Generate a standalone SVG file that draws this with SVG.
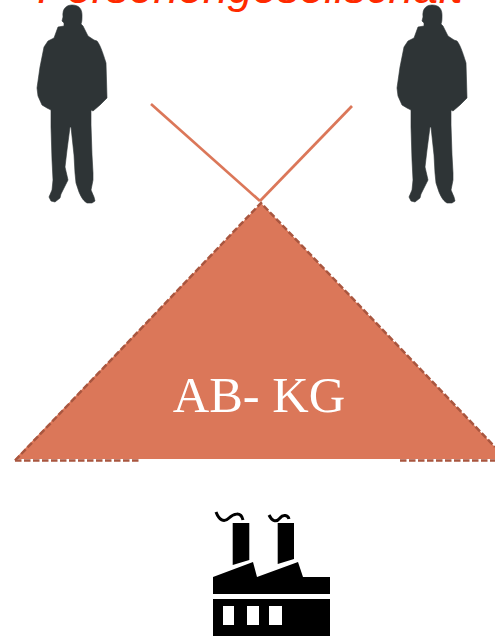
<svg xmlns="http://www.w3.org/2000/svg" width="495" height="636" viewBox="0 0 495 636">
<style>
.title{font-family:"Liberation Sans",Arial,sans-serif;font-style:italic;font-size:44.500px;fill:#ff2a00}
.label{font-family:"Liberation Serif","Times New Roman",serif;font-size:50.500px;fill:#fff}
.man{fill:#2e3436;stroke:#2e3436;stroke-width:0.600;stroke-linejoin:round}
.line{stroke:#db7759;stroke-width:2.700;fill:none}
.edge{fill:none;stroke:#a9563f;stroke-width:2.500;stroke-dasharray:6.500 2.500}
</style>
<defs>
<path id="person" d="M63 17 C62 8 67 5 72 5 C79 5 82 9 82 15 C82 19 82 22 81 24 L83 26 L88 36 L94 40 L97 41 C100 45 102 50 106 63 L107 98 L100 105 L93 111 L91 110 L91 125 L92 155 L93 173 L93 180 L91 190 L94 197 L95 201 L92 203 L87 203 C84 201 82 199 79 192 L76 183 L75 173 L74 155 L71 127 L70 127 L67 150 L65 167 L68 180 L64 188 L61 194 L60 198 L55 202 L51 201 L49 197 L52 190 L53 180 L52 160 L51 127 L51 110 L47 108 L42 105 L38 96 L37 88 L40 67 L44 47 L48 41 L54 38 L58 27 L64 26 L64 23 L62 21 Z"/>
</defs>
<g id="title"><text class="title" x="250" y="2.500" text-anchor="middle">Personengesellschaft</text></g>
<g id="person-left"><use href="#person" class="man"/></g>
<g id="person-right"><use href="#person" class="man" x="360"/></g>
<g id="connectors">
<line class="line" x1="151" y1="104" x2="260" y2="201"/>
<line class="line" x1="352" y1="106" x2="260" y2="201"/>
</g>
<g id="ab-kg">
<polygon points="261,203 495,447 495,459 15,459" fill="#db7759"/>
<path class="edge" d="M15 460.500 L261 203 L495 447"/>
<path class="edge" d="M15 460.500 H141 M400 460.500 H495"/>
<text class="label" x="259" y="412" text-anchor="middle">AB- KG</text>
</g>
<g id="factory">
<path fill="#000" d="M232.700 523 H249.300 V560 L232.700 565 Z M277.700 523 H294 V559 L277.700 564 Z M213 577 L253 562 L257 577 L298 562 L303 577 H330 V594 H213 Z"/>
<path fill="#000" fill-rule="evenodd" d="M213 599 H330 V636 H213 Z M223 606 V625 H234 V606 Z M247 606 V625 H259 V606 Z M269 606 V625 H282 V606 Z"/>
<path fill="none" stroke="#000" stroke-width="3" d="M216 512 C219 520 224 523 229 518 C233 514 241 511 243 520 M269 515 C272 521 276 523 280 518 C283 514 288 515 289 519"/>
</g>
</svg>
